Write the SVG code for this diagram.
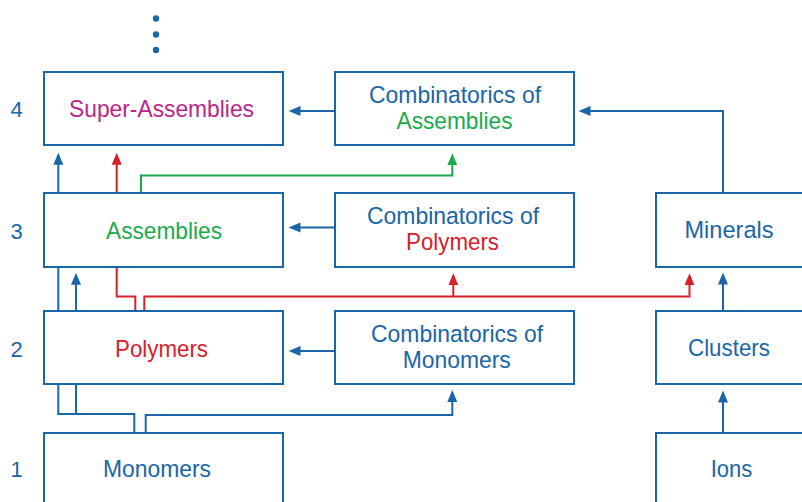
<svg xmlns="http://www.w3.org/2000/svg" width="802" height="502" viewBox="0 0 802 502">
<style>
.box{fill:#fff;stroke:#1a66a8;stroke-width:2}
.t{font-family:"Liberation Sans",Arial,sans-serif;font-size:24.5px;text-anchor:middle;fill:#1a66a8}
.num{font-family:"Liberation Sans",Arial,sans-serif;font-size:22px;text-anchor:middle;fill:#1a66a8}
.b{fill:none;stroke:#1a66a8;stroke-width:2}
.r{fill:none;stroke:#d7202a;stroke-width:2}
.g{fill:none;stroke:#1aaa4b;stroke-width:2}
.ab{marker-end:url(#mb)}
.ar{marker-end:url(#mr)}
.ag{marker-end:url(#mg)}
.red{fill:#d7202a}
.grn{fill:#1aaa4b}
.mag{fill:#b8268c}
</style>
<defs>
<marker id="mb" markerUnits="userSpaceOnUse" markerWidth="13" markerHeight="11" refX="9" refY="5" orient="auto"><path d="M0,0 L12,5 L0,10 z" fill="#1a66a8"/></marker>
<marker id="mr" markerUnits="userSpaceOnUse" markerWidth="13" markerHeight="11" refX="9" refY="5" orient="auto"><path d="M0,0 L12,5 L0,10 z" fill="#d7202a"/></marker>
<marker id="mg" markerUnits="userSpaceOnUse" markerWidth="13" markerHeight="11" refX="9" refY="5" orient="auto"><path d="M0,0 L12,5 L0,10 z" fill="#1aaa4b"/></marker>
</defs>

<g id="ellipsis" fill="#1a66a8">
<circle cx="156" cy="18.5" r="3.2"/>
<circle cx="156" cy="34.5" r="3.2"/>
<circle cx="156" cy="50" r="3.2"/>
</g>

<g id="levels">
<text class="num" x="16.5" y="117">4</text>
<text class="num" x="16.5" y="239">3</text>
<text class="num" x="16.5" y="357">2</text>
<text class="num" x="16.5" y="477">1</text>
</g>

<g id="connectors">
<path class="b ab" d="M335,111 H291.5"/>
<path class="b ab" d="M723,193 V111 H581.5"/>
<path class="b ab" d="M335,227.5 H291.5"/>
<path class="b ab" d="M335,351 H291.5"/>
<path class="b ab" d="M723,311 V275.5"/>
<path class="b ab" d="M723,433 V393.5"/>
<path class="b ab" d="M134.3,433 V414 H58.3 V155.7"/>
<path class="b ab" d="M76,414 V275.7"/>
<path class="b ab" d="M145.7,433 V415 H452.3 V393"/>
<path class="r ar" d="M135.3,311 V296.5 H116.7 V155.7"/>
<path class="r ar" d="M144.3,311 V296.5 H689.5 V276.3"/>
<path class="r ar" d="M453.3,296.5 V276.3"/>
<path class="g ag" d="M141,193 V175.5 H452.3 V156.3"/>
</g>

<g id="super-assemblies">
<rect class="box" x="44" y="72" width="239" height="73"/>
<text class="t mag" x="161.5" y="117" textLength="185" lengthAdjust="spacingAndGlyphs">Super-Assemblies</text>
</g>
<g id="comb-assemblies">
<rect class="box" x="335" y="72" width="239" height="73"/>
<text class="t" x="455" y="103" textLength="172" lengthAdjust="spacingAndGlyphs">Combinatorics of</text>
<text class="t grn" x="454.5" y="128.5" textLength="116" lengthAdjust="spacingAndGlyphs">Assemblies</text>
</g>
<g id="assemblies">
<rect class="box" x="44" y="193" width="239" height="74"/>
<text class="t grn" x="164" y="239" textLength="116" lengthAdjust="spacingAndGlyphs">Assemblies</text>
</g>
<g id="comb-polymers">
<rect class="box" x="335" y="193" width="239" height="74"/>
<text class="t" x="453" y="224" textLength="172" lengthAdjust="spacingAndGlyphs">Combinatorics of</text>
<text class="t red" x="452.5" y="250" textLength="93" lengthAdjust="spacingAndGlyphs">Polymers</text>
</g>
<g id="minerals">
<rect class="box" x="656" y="193" width="239" height="74"/>
<text class="t" x="729" y="238" textLength="89" lengthAdjust="spacingAndGlyphs">Minerals</text>
</g>
<g id="polymers">
<rect class="box" x="44" y="311" width="239" height="73"/>
<text class="t red" x="161.5" y="357" textLength="93" lengthAdjust="spacingAndGlyphs">Polymers</text>
</g>
<g id="comb-monomers">
<rect class="box" x="335" y="311" width="239" height="73"/>
<text class="t" x="457" y="342" textLength="172" lengthAdjust="spacingAndGlyphs">Combinatorics of</text>
<text class="t" x="456.7" y="368" textLength="108" lengthAdjust="spacingAndGlyphs">Monomers</text>
</g>
<g id="clusters">
<rect class="box" x="656" y="311" width="239" height="73"/>
<text class="t" x="729" y="356" textLength="82" lengthAdjust="spacingAndGlyphs">Clusters</text>
</g>
<g id="monomers">
<rect class="box" x="44" y="433" width="239" height="100"/>
<text class="t" x="157" y="477" textLength="108" lengthAdjust="spacingAndGlyphs">Monomers</text>
</g>
<g id="ions">
<rect class="box" x="656" y="433" width="239" height="100"/>
<text class="t" x="731.5" y="477" textLength="41.6" lengthAdjust="spacingAndGlyphs">Ions</text>
</g>
</svg>
